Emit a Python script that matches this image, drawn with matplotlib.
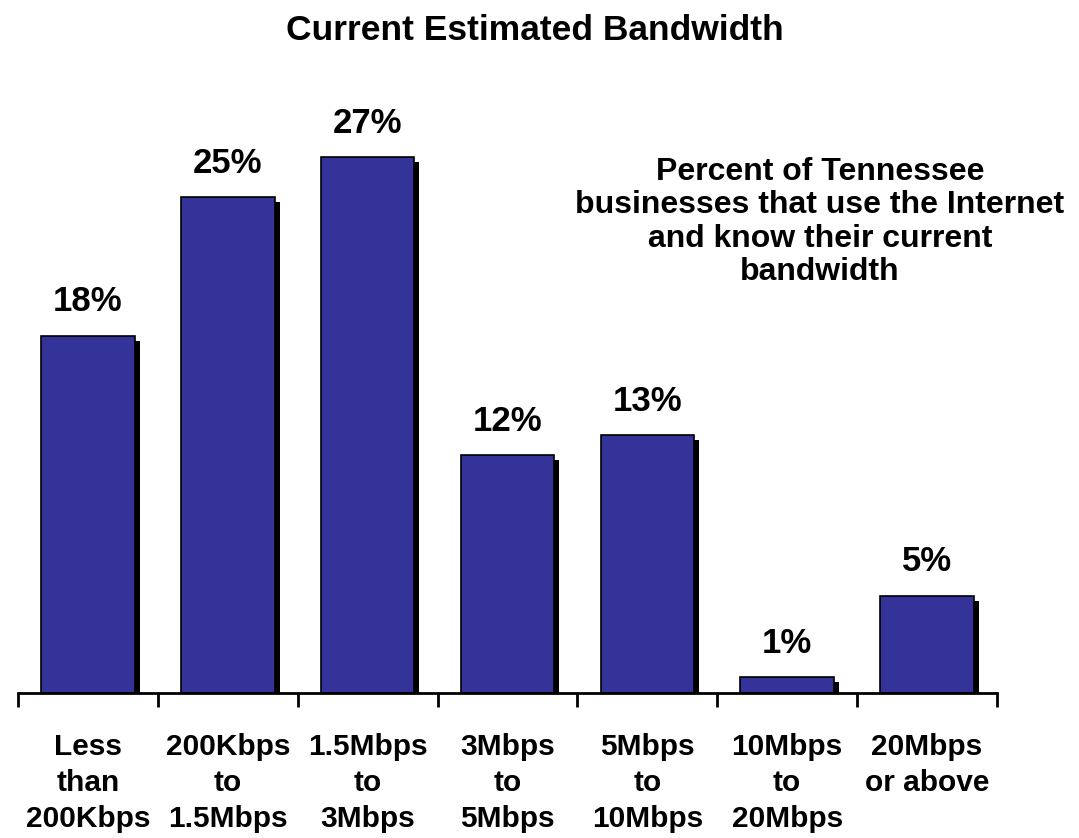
import matplotlib
matplotlib.use("Agg")
from matplotlib import pyplot as plt
from matplotlib import patheffects as pe
import numpy as np

# bandwidth categories and share of businesses (%)
categories = ["Less\nthan\n200Kbps", "200Kbps\nto\n1.5Mbps", "1.5Mbps\nto\n3Mbps",
              "3Mbps\nto\n5Mbps", "5Mbps\nto\n10Mbps", "10Mbps\nto\n20Mbps", "20Mbps\nor above"]
values = [18, 25, 27, 12, 13, 0.8, 4.9]
value_labels = ["18%", "25%", "27%", "12%", "13%", "1%", "5%"]

plt.rcParams["font.family"] = ["Liberation Sans", "DejaVu Sans"]
plt.rcParams["font.weight"] = "bold"

W, H = 1079, 838
fig = plt.figure(figsize=(W / 100, H / 100), dpi=100)
# axes box: x 18..997, y 97.5..693 (pixels from top)
ax = fig.add_axes([18 / W, 1 - 693 / H, (997 - 18) / W, (693 - 97.5) / H])

x = np.arange(len(values))
shadow = [pe.SimplePatchShadow(offset=(3.6, -3.6), shadow_rgbFace="black", alpha=1.0), pe.Normal()]
bars = ax.bar(x, values, width=0.67, color="#333399", edgecolor="black", linewidth=1.2, zorder=3)
for b in bars:
    b.set_path_effects(shadow)

for xi, v, lab in zip(x, values, value_labels):
    ax.text(xi, v + 1.7, lab, ha="center", va="center", fontsize=25, fontweight="bold")

ax.set_xlim(-0.5, len(values) - 0.5)
ax.set_ylim(0, 30)
for s in ["top", "right", "left"]:
    ax.spines[s].set_visible(False)
ax.spines["bottom"].set_linewidth(2)
ax.spines["bottom"].set_zorder(4)
ax.set_yticks([])

ax.set_xticks(x)
ax.set_xticklabels(categories, fontsize=21.5, fontweight="bold", linespacing=1.35)
ax.tick_params(axis="x", which="major", length=0, pad=29)
ax.set_xticks(np.arange(-0.5, len(values)), minor=True)
ax.tick_params(axis="x", which="minor", length=10, width=2, direction="out")

fig.text(535 / W, 1 - 31 / H, "Current Estimated Bandwidth", ha="center", va="center",
         fontsize=25.5, fontweight="bold")
fig.text(820 / W, 1 - 222 / H,
         "Percent of Tennessee\nbusinesses that use the Internet\nand know their current\nbandwidth",
         ha="center", va="center", fontsize=23, fontweight="bold", linespacing=1.14)

fig.savefig("out.png", dpi=100)
